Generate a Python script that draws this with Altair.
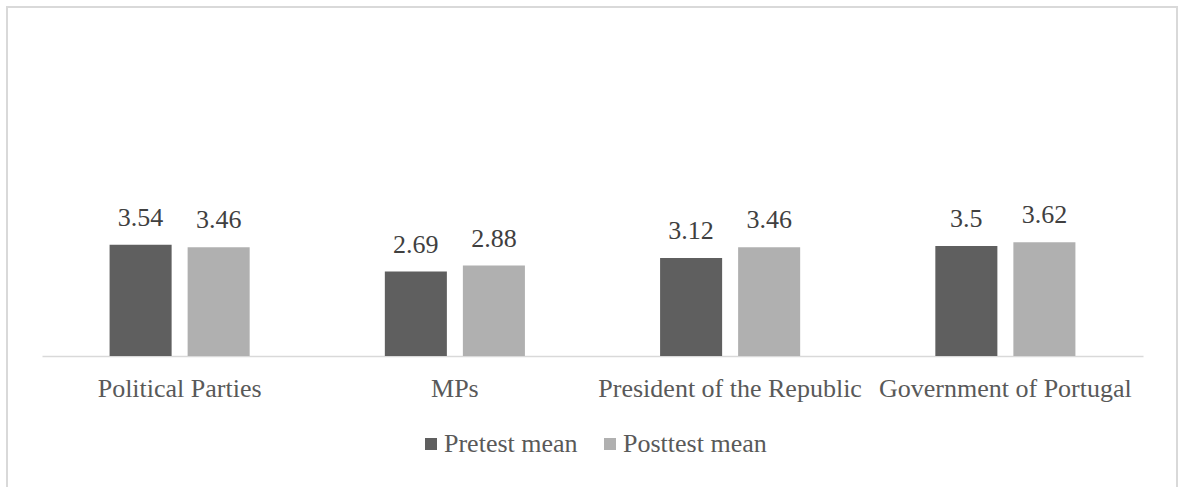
import altair as alt
import pandas as pd

categories = ["Political Parties", "MPs", "President of the Republic", "Government of Portugal"]
series = ["Pretest mean", "Posttest mean"]
pretest = [3.54, 2.69, 3.12, 3.5]
posttest = [3.46, 2.88, 3.46, 3.62]
pretest_labels = ["3.54", "2.69", "3.12", "3.5"]
posttest_labels = ["3.46", "2.88", "3.46", "3.62"]

rows = []
for i, c in enumerate(categories):
    rows.append({"cat": c, "series": series[0], "value": pretest[i], "label": pretest_labels[i]})
    rows.append({"cat": c, "series": series[1], "value": posttest[i], "label": posttest_labels[i]})
df = pd.DataFrame(rows)

FONT = "Liberation Serif"
FS = 26
W, H = 1101, 314

x = alt.X("cat:N", sort=categories, title=None,
          scale=alt.Scale(paddingInner=0, paddingOuter=0),
          axis=alt.Axis(labelAngle=0, ticks=False, domainColor="#d9d9d9", domainWidth=1.5,
                        labelFontSize=FS, labelColor="#595959", labelFont=FONT,
                        labelBaseline="alphabetic", labelPadding=40, labelLimit=0))
xo = alt.XOffset("series:N", sort=series,
                 scale=alt.Scale(paddingInner=0.205, paddingOuter=0.866))
y = alt.Y("value:Q", scale=alt.Scale(domain=[0, 10]), axis=None)

bars = alt.Chart(df).mark_bar().encode(
    x=x, xOffset=xo, y=y,
    color=alt.Color("series:N", sort=series,
                    scale=alt.Scale(domain=series, range=["#5f5f5f", "#b0b0b0"]),
                    legend=alt.Legend(title=None, orient="none", legendX=376, legendY=389,
                                      direction="horizontal", symbolType="square",
                                      symbolSize=144, symbolStrokeWidth=0,
                                      labelFontSize=FS, labelFont=FONT, labelColor="#595959",
                                      columnPadding=19, labelOffset=0, labelLimit=0)),
)

texts = alt.Chart(df).mark_text(baseline="alphabetic", dy=-19, fontSize=FS, font=FONT, color="#404040").encode(
    x=x, xOffset=xo, y=y, text="label:N"
)

frame = alt.Chart(df).mark_rect(fill=None, stroke="#d9d9d9", strokeWidth=2).encode(
    x=alt.value(-35), x2=alt.value(1135), y=alt.value(-35), y2=alt.value(470)
)

chart = alt.layer(frame, bars, texts).properties(
    width=W, height=H,
    background="white",
    autosize=alt.AutoSizeParams(type="none"),
    padding={"left": 42, "top": 42, "right": 37, "bottom": 131},
).configure_view(stroke=None, strokeWidth=0)

chart.save("out.html", embed_options={"renderer": "svg", "actions": False})
